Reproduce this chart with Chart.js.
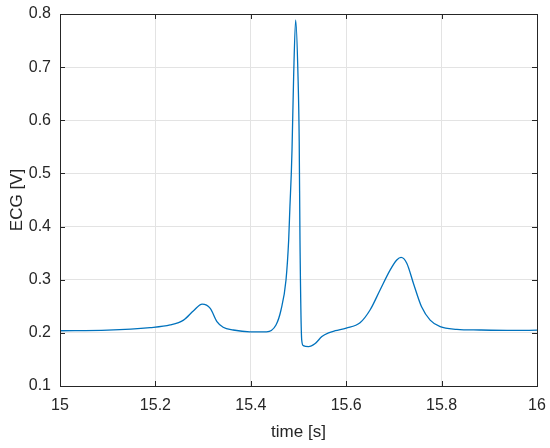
<!DOCTYPE html>
<html>
<head>
<meta charset="utf-8">
<script src="https://cdn.jsdelivr.net/npm/chart.js@4"></script>
<style>
  html, body { margin: 0; padding: 0; background: #fff; }
  #wrap { width: 550px; height: 448px; }
</style>
</head>
<body>
<div id="wrap"><canvas id="graph" width="550" height="448"></canvas></div>
<script>
// samples
var times = [15.00, 15.10, 15.189, 15.231, 15.259, 15.280, 15.298, 15.315, 15.329, 15.342, 15.363,
	15.398, 15.433, 15.4528, 15.4633, 15.4738, 15.4794, 15.482, 15.4849, 15.4864, 15.4898, 15.4941,
	15.499, 15.5015, 15.5031, 15.5067, 15.510, 15.521, 15.535, 15.549, 15.563, 15.577,
	15.600, 15.629, 15.650, 15.671, 15.692, 15.706, 15.715, 15.727, 15.741, 15.758,
	15.776, 15.797, 15.832, 15.880, 15.950, 16.00];
var ecg = [0.204, 0.205, 0.2097, 0.2148, 0.224, 0.2417, 0.254, 0.246, 0.221, 0.2105, 0.2054,
	0.202, 0.202, 0.2148, 0.243, 0.2995, 0.3747, 0.4374, 0.50, 0.544, 0.682, 0.789,
	0.682, 0.56, 0.375, 0.187, 0.176, 0.174, 0.180, 0.193, 0.200, 0.204,
	0.209, 0.219, 0.243, 0.2807, 0.318, 0.337, 0.342, 0.331, 0.293, 0.249,
	0.224, 0.2116, 0.2067, 0.2054, 0.2045, 0.205];

var xMin = 15, xMax = 16, xStep = 0.2;
var yMin = 0.1, yMax = 0.8, yStep = 0.1;

var points = times.map(function(t, i) { return {x: t, y: ecg[i]}; });

var boxPlugin = {
	id: 'box',
	afterDraw: function(chart) {
		var ctx = chart.ctx, a = chart.chartArea;
		var xs = chart.scales.x, ys = chart.scales.y;
		ctx.save();
		ctx.strokeStyle = '#262626';
		ctx.lineWidth = 1;
		ctx.strokeRect(Math.round(a.left) + 0.5, Math.round(a.top) + 0.5,
			Math.round(a.right - a.left), Math.round(a.bottom - a.top));
		ctx.beginPath();
		xs.ticks.forEach(function(t) {
			var px = Math.round(xs.getPixelForValue(t.value)) + 0.5;
			ctx.moveTo(px, a.bottom); ctx.lineTo(px, a.bottom - 5);
			ctx.moveTo(px, a.top); ctx.lineTo(px, a.top + 5);
		});
		ys.ticks.forEach(function(t) {
			var py = Math.round(ys.getPixelForValue(t.value)) + 0.5;
			ctx.moveTo(a.left, py); ctx.lineTo(a.left + 5, py);
			ctx.moveTo(a.right, py); ctx.lineTo(a.right - 5, py);
		});
		ctx.stroke();
		ctx.restore();
	}
};

var ctx = document.getElementById("graph").getContext("2d");
var myChart = new Chart(ctx, {
	type: 'line',
	data: {
		datasets: [{
			data: points,
			borderColor: '#0072BD',
			borderWidth: 1.3,
			pointRadius: 0,
			fill: false,
			cubicInterpolationMode: 'monotone'
		}]
	},
	options: {
		responsive: false,
		animation: false,
		layout: { padding: { top: 14, right: 13, left: 0, bottom: 0 } },
		plugins: { legend: { display: false }, tooltip: { enabled: false } },
		scales: {
			x: {
				type: 'linear',
				min: xMin, max: xMax,
				afterFit: function(s) { s.height = 62; s.paddingLeft = 0; s.paddingRight = 0; },
				border: { display: false },
				grid: { color: '#e3e3e3', drawTicks: false },
				ticks: {
					stepSize: xStep,
					padding: 10,
					color: '#262626',
					font: { family: '"Liberation Sans", Arial, sans-serif', size: 16 },
					maxRotation: 0,
					callback: function(v) { return +v.toFixed(1) + ''; }
				},
				title: {
					display: true,
					text: 'time [s]',
					color: '#262626',
					font: { family: '"Liberation Sans", Arial, sans-serif', size: 17 },
					padding: { top: 0, bottom: 5 }
				}
			},
			y: {
				min: yMin, max: yMax,
				afterFit: function(s) { s.width = 60; s.paddingTop = 0; s.paddingBottom = 0; },
				border: { display: false },
				grid: { color: '#e3e3e3', drawTicks: false },
				ticks: {
					stepSize: yStep,
					padding: 9,
					color: '#262626',
					font: { family: '"Liberation Sans", Arial, sans-serif', size: 16 },
					callback: function(v) { return +v.toFixed(1) + ''; }
				},
				title: {
					display: true,
					text: 'ECG [V]',
					color: '#262626',
					font: { family: '"Liberation Sans", Arial, sans-serif', size: 17 },
					padding: { top: 7, bottom: 0 }
				}
			}
		}
	},
	plugins: [boxPlugin]
});
</script>
</body>
</html>
